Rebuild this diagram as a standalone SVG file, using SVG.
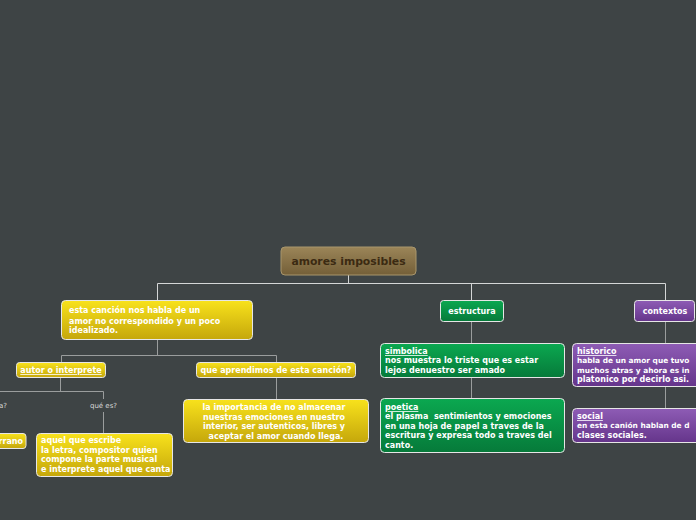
<svg xmlns="http://www.w3.org/2000/svg" width="696" height="520" viewBox="0 0 696 520">
<defs>
<linearGradient id="gBrown" x1="0" y1="0" x2="0" y2="1"><stop offset="0" stop-color="#9b8558"/><stop offset="1" stop-color="#745f38"/></linearGradient>
<linearGradient id="gYellow" x1="0" y1="0" x2="0" y2="1"><stop offset="0" stop-color="#f8e21c"/><stop offset="1" stop-color="#c5a70b"/></linearGradient>
<linearGradient id="gGreen" x1="0" y1="0" x2="0" y2="1"><stop offset="0" stop-color="#0ba850"/><stop offset="1" stop-color="#067a3a"/></linearGradient>
<linearGradient id="gPurple" x1="0" y1="0" x2="0" y2="1"><stop offset="0" stop-color="#8e5cb5"/><stop offset="1" stop-color="#65358b"/></linearGradient>
</defs>
<style>
.bg{fill:#3e4445}
.box{stroke:#e6e6e6;stroke-width:1}
.root{fill:url(#gBrown);stroke:#a8966c;stroke-width:1}
.y{fill:url(#gYellow)}
.g{fill:url(#gGreen)}
.p{fill:url(#gPurple)}
text{font-family:"DejaVu Sans","Liberation Sans",sans-serif;font-weight:bold;font-size:8px;fill:#ffffff}
.rt{font-size:10.8px;fill:#3b2a12;text-anchor:middle}
.c{text-anchor:middle}
.u{text-decoration:underline}
.s{font-size:7.4px}
.lbl{font-weight:normal;font-size:7px;fill:#d8d8d8}
.con{fill:none;stroke:#9a9d9d;stroke-width:1}
.conw{fill:none;stroke:#d4d6d6;stroke-width:1}
</style>
<rect class="bg" x="0" y="0" width="696" height="520"/>
<g id="connectors">
<path class="conw" d="M348.5 275 V283.5 M157.5 283.5 H665.5 M157.5 283.5 V300 M471.5 283.5 V300 M665.5 283.5 V300"/>
<path class="con" d="M157.5 340 V355.5 M61.5 355.5 H276.5 M61.5 355.5 V362 M276.5 355.5 V362"/>
<path class="con" d="M60.5 377 V391.5 M0 391.5 H103.5 M103.5 391.5 V399 M103.5 412 V433"/>
<path class="con" d="M276.5 377 V399"/>
<path class="con" d="M471.5 321 V343 M471.5 377 V398"/>
<path class="con" d="M665.5 321 V343 M665.5 387 V408"/>
</g>
<g id="root">
<rect class="root" x="281" y="247" width="135" height="28" rx="4"/>
<text class="rt" x="348.5" y="265">amores imposibles</text>
</g>
<g id="n-cancion">
<rect class="box y" x="61.5" y="300.5" width="191" height="39" rx="4"/>
<text x="69" y="313">esta canción nos habla de un</text>
<text x="69" y="323.5">amor no correspondido y un poco</text>
<text x="69" y="333">idealizado.</text>
</g>
<g id="n-autor">
<rect class="box y" x="16.5" y="362.5" width="89" height="15" rx="3"/>
<text class="c u" x="61" y="373">autor o interprete</text>
</g>
<g id="n-aprendimos">
<rect class="box y" x="196.5" y="362.5" width="159" height="15" rx="3"/>
<text class="c" x="276" y="373">que aprendimos de esta canción?</text>
</g>
<g id="lbl-a">
<text class="lbl" x="7" y="408" text-anchor="end">a?</text>
</g>
<g id="lbl-que-es">
<text class="lbl c" x="103.5" y="408">qué es?</text>
</g>
<g id="n-rrano">
<rect class="box y" x="-20" y="433.5" width="46" height="15" rx="3"/>
<text x="23" y="444" text-anchor="end">rrano</text>
</g>
<g id="n-aquel">
<rect class="box y" x="36.5" y="433.5" width="136" height="43" rx="4"/>
<text x="41" y="443">aquel que escribe</text>
<text x="41" y="452.5">la letra, compositor quien</text>
<text x="41" y="462">compone la parte musical</text>
<text x="41" y="471.5">e interprete aquel que canta</text>
</g>
<g id="n-importancia">
<rect class="box y" x="183.5" y="399.5" width="185" height="43" rx="4"/>
<text class="c" x="274" y="410">la importancia de no almacenar</text>
<text class="c" x="274" y="419.5">nuestras emociones en nuestro</text>
<text class="c" x="274" y="429">interior, ser autenticos, libres y</text>
<text class="c" x="276" y="438.5">aceptar el amor cuando llega.</text>
</g>
<g id="n-estructura">
<rect class="box g" x="440.5" y="300.5" width="63" height="21" rx="3"/>
<text class="c" x="472" y="314">estructura</text>
</g>
<g id="n-simbolica">
<rect class="box g" x="380.5" y="343.5" width="184" height="34" rx="4"/>
<text class="u" x="385" y="354">simbolica</text>
<text x="385" y="363">nos muestra lo triste que es estar</text>
<text x="385" y="372.5">lejos denuestro ser amado</text>
</g>
<g id="n-poetica">
<rect class="box g" x="380.5" y="398.5" width="184" height="54" rx="4"/>
<text class="u" x="385" y="410">poetica</text>
<text x="385" y="419" xml:space="preserve">el plasma  sentimientos y emociones</text>
<text x="385" y="428.5">en una hoja de papel a traves de la</text>
<text x="385" y="438">escritura y expresa todo a traves del</text>
<text x="385" y="447.5">canto.</text>
</g>
<g id="n-contextos">
<rect class="box p" x="634.5" y="300.5" width="60" height="21" rx="3"/>
<text class="c" x="665" y="314">contextos</text>
</g>
<g id="n-historico">
<rect class="box p" x="572.5" y="343.5" width="140" height="43" rx="4"/>
<text class="u" x="577" y="354">historico</text>
<text class="s" x="577" y="363">habla de un amor que tuvo</text>
<text class="s" x="577" y="372.5">muchos atras y ahora es in</text>
<text x="577" y="382">platonico por decirlo asi.</text>
</g>
<g id="n-social">
<rect class="box p" x="572.5" y="408.5" width="140" height="34" rx="4"/>
<text class="u" x="577" y="419">social</text>
<text class="s" x="577" y="428">en esta canión hablan de d</text>
<text x="577" y="437.5">clases sociales.</text>
</g>
</svg>
